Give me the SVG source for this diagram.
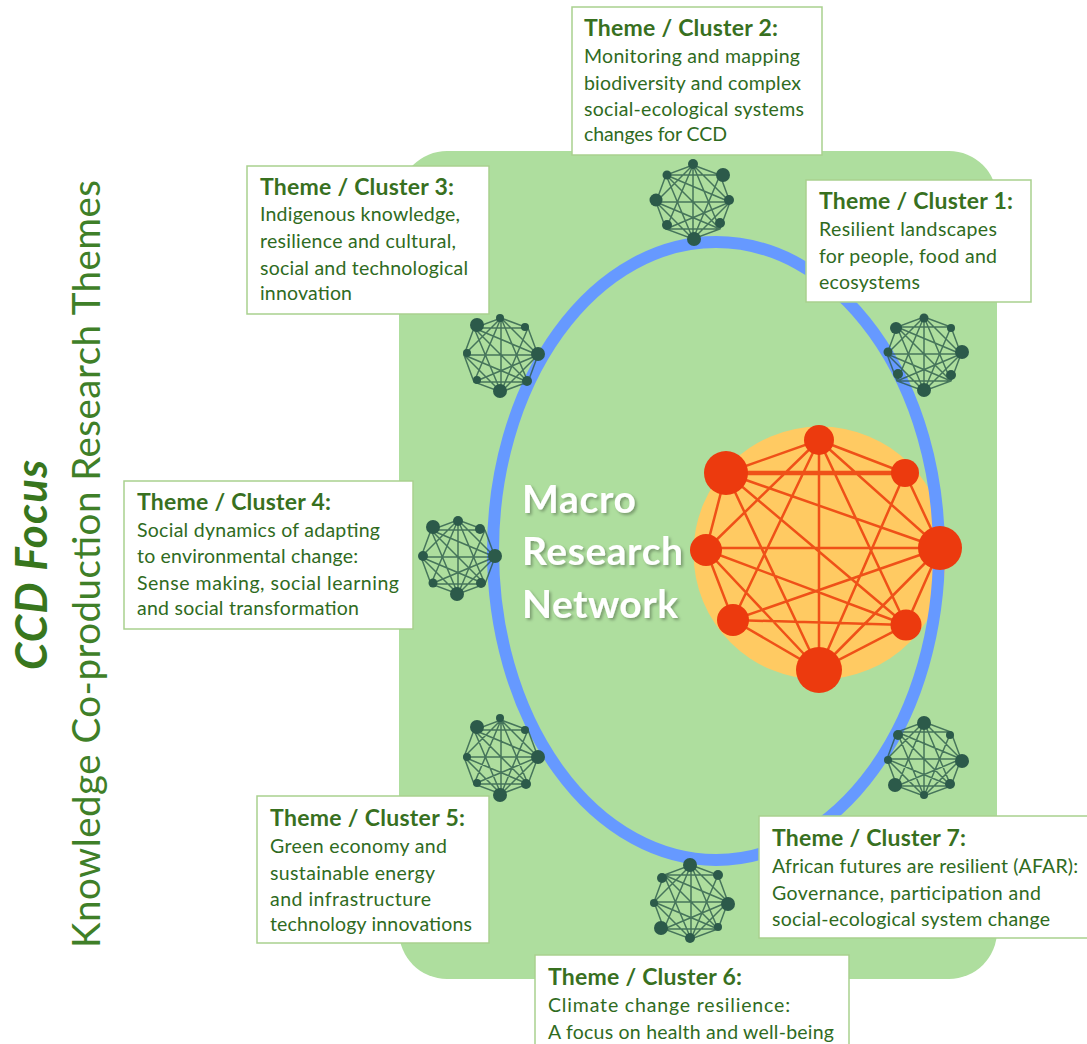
<svg xmlns="http://www.w3.org/2000/svg" width="1087" height="1044" viewBox="0 0 1087 1044">
<style>
.box{fill:#fff;stroke:#A9D18E;stroke-width:1.5}
.t{font-family:Lato,"Liberation Sans",sans-serif;font-size:23px;font-weight:700;fill:#38701F}
.b{font-family:Lato,"Liberation Sans",sans-serif;font-size:19.5px;fill:#2F6B1E}
.n{fill:#2C5A4A}
.r{fill:#EC3A0E}
.m{fill:none;stroke:#2C5A4A;stroke-width:1.5;stroke-opacity:.8}
.big{fill:none;stroke:#EE4A14;stroke-width:2.5;stroke-opacity:.95}
.mac{font-family:Lato,"Liberation Sans",sans-serif;font-size:39px;font-weight:700;fill:#fff;filter:url(#sh)}
</style>
<defs>
<filter id="sh" x="-10%" y="-20%" width="120%" height="140%"><feDropShadow dx="2" dy="2" stdDeviation="1.5" flood-color="#000" flood-opacity=".3"/></filter>
<path id="mesh" class="m" d="M0,-37L27,-27L37,0L27,27L0,37L-27,27L-37,0L-27,-27ZM0,-37L37,0M0,-37L27,27M0,-37V37M0,-37L-27,27M0,-37L-37,0M27,-27L0,37M27,-27L-27,-27M37,0L-27,-27M37,0H-37M37,0L-27,27M37,0L0,37M27,27L-27,-27M27,27L-37,0M27,27L-27,27M0,37L-27,-27M0,37L-37,0"/>
</defs>
<rect id="field" x="399" y="151" width="598" height="828" rx="48" fill="#AEDE9E"/>
<circle id="macro-disc" cx="820" cy="553" r="126.5" fill="#FFCA62"/>
<ellipse id="macro-ring" cx="716" cy="551" rx="223" ry="309" fill="none" stroke="#6699FF" stroke-width="12"/>
<g id="connectors">
<path class="big" d="M819,440L905,473L940,548L906,625L819,670L733,620L706,550L726,473ZM819,440L940,548M819,440L906,625M819,440V670M819,440L733,620M819,440L706,550M905,473L819,670M905,472H726M905,474H726M940,548L726,473M940,548H706M940,548L733,620M940,548L819,670M906,625L726,473M906,625L706,550M906,625L733,620M819,670L726,473M819,670L706,550"/>
<use href="#mesh" x="924" y="354"/>
<use href="#mesh" x="693" y="202"/>
<use href="#mesh" x="501" y="355"/>
<use href="#mesh" x="458" y="557"/>
<use href="#mesh" x="501" y="757"/>
<use href="#mesh" x="691" y="902"/>
<use href="#mesh" x="924" y="759"/>
</g>
<g id="macro-nodes">
<circle class="r" cx="819" cy="440" r="15"/><circle class="r" cx="905" cy="473" r="14"/><circle class="r" cx="940" cy="548" r="22"/><circle class="r" cx="906" cy="625" r="15.5"/><circle class="r" cx="819" cy="670" r="23"/><circle class="r" cx="733" cy="620" r="16"/><circle class="r" cx="706" cy="550" r="16"/><circle class="r" cx="726" cy="473" r="22"/>
</g>
<g id="net1"><circle class="n" cx="924" cy="318" r="4.5"/><circle class="n" cx="951" cy="328" r="4"/><circle class="n" cx="962" cy="352" r="7"/><circle class="n" cx="951" cy="375" r="5"/><circle class="n" cx="924" cy="390" r="7"/><circle class="n" cx="898" cy="374" r="5"/><circle class="n" cx="888" cy="352" r="4.5"/><circle class="n" cx="896" cy="328" r="6"/></g>
<g id="net2"><circle class="n" cx="693" cy="164" r="5"/><circle class="n" cx="723" cy="175" r="7"/><circle class="n" cx="729" cy="200" r="5"/><circle class="n" cx="720" cy="223" r="5"/><circle class="n" cx="694" cy="239" r="7"/><circle class="n" cx="667" cy="225" r="5"/><circle class="n" cx="656" cy="200" r="6.5"/><circle class="n" cx="667" cy="175" r="4.5"/></g>
<g id="net3"><circle class="n" cx="500" cy="318" r="4"/><circle class="n" cx="525" cy="327" r="4"/><circle class="n" cx="538" cy="354" r="7"/><circle class="n" cx="527" cy="381" r="5"/><circle class="n" cx="500" cy="391" r="7"/><circle class="n" cx="477" cy="380" r="4"/><circle class="n" cx="467" cy="353" r="4"/><circle class="n" cx="477" cy="325" r="7"/></g>
<g id="net4"><circle class="n" cx="458" cy="521" r="5"/><circle class="n" cx="480" cy="529" r="5"/><circle class="n" cx="495" cy="556" r="7"/><circle class="n" cx="481" cy="583" r="5"/><circle class="n" cx="457" cy="594" r="7"/><circle class="n" cx="433" cy="583" r="4.5"/><circle class="n" cx="423" cy="556" r="5"/><circle class="n" cx="433" cy="527" r="7"/></g>
<g id="net5"><circle class="n" cx="500" cy="718" r="4"/><circle class="n" cx="525" cy="730" r="4"/><circle class="n" cx="538" cy="757" r="7"/><circle class="n" cx="526" cy="784" r="5"/><circle class="n" cx="500" cy="795" r="7"/><circle class="n" cx="477" cy="783" r="4"/><circle class="n" cx="467" cy="757" r="4"/><circle class="n" cx="477" cy="727" r="7"/></g>
<g id="net6"><circle class="n" cx="690" cy="865" r="7"/><circle class="n" cx="718" cy="875" r="5"/><circle class="n" cx="728" cy="904" r="7"/><circle class="n" cx="718" cy="927" r="4"/><circle class="n" cx="690" cy="938" r="5"/><circle class="n" cx="661" cy="928" r="7"/><circle class="n" cx="654" cy="903" r="4"/><circle class="n" cx="662" cy="878" r="5"/></g>
<g id="net7"><circle class="n" cx="924" cy="723" r="7"/><circle class="n" cx="950" cy="735" r="4"/><circle class="n" cx="962" cy="761" r="7"/><circle class="n" cx="950" cy="784" r="5"/><circle class="n" cx="924" cy="795" r="4"/><circle class="n" cx="895" cy="785" r="7"/><circle class="n" cx="888" cy="760" r="4"/><circle class="n" cx="898" cy="735" r="5"/></g>
<g id="macro-label"><text class="mac" x="522" y="513" textLength="114">Macro</text><text class="mac" x="522" y="565" textLength="161">Research</text><text class="mac" x="522" y="618" textLength="156">Network</text></g>
<g id="cluster2"><rect class="box" x="572" y="7" width="250" height="148"/><text class="t" x="584" y="36" textLength="194">Theme / Cluster 2:</text><text class="b" x="584" y="63" textLength="216">Monitoring and mapping</text><text class="b" x="584" y="90" textLength="217">biodiversity and complex</text><text class="b" x="584" y="116" textLength="220">social-ecological systems</text><text class="b" x="584" y="141" textLength="143">changes for CCD</text></g>
<g id="cluster3"><rect class="box" x="247" y="166" width="242" height="148"/><text class="t" x="260" y="195" textLength="194">Theme / Cluster 3:</text><text class="b" x="260" y="221" textLength="200">Indigenous knowledge,</text><text class="b" x="260" y="248" textLength="196">resilience and cultural,</text><text class="b" x="260" y="275" textLength="208">social and technological</text><text class="b" x="260" y="300" textLength="92">innovation</text></g>
<g id="cluster1"><rect class="box" x="806" y="180" width="225" height="122"/><text class="t" x="819" y="209" textLength="194">Theme / Cluster 1:</text><text class="b" x="819" y="236" textLength="178">Resilient landscapes</text><text class="b" x="819" y="263" textLength="178">for people, food and</text><text class="b" x="819" y="289" textLength="101">ecosystems</text></g>
<g id="cluster4"><rect class="box" x="124" y="481" width="289" height="148"/><text class="t" x="137" y="510" textLength="194">Theme / Cluster 4:</text><text class="b" x="137" y="537" textLength="243">Social dynamics of adapting</text><text class="b" x="137" y="563" textLength="221">to environmental change:</text><text class="b" x="137" y="590" textLength="262">Sense making, social learning</text><text class="b" x="137" y="615" textLength="222">and social transformation</text></g>
<g id="cluster5"><rect class="box" x="257" y="796" width="232" height="147"/><text class="t" x="270" y="826" textLength="195">Theme / Cluster 5:</text><text class="b" x="270" y="853" textLength="177">Green economy and</text><text class="b" x="270" y="880" textLength="165">sustainable energy</text><text class="b" x="270" y="906" textLength="161">and infrastructure</text><text class="b" x="270" y="931" textLength="202">technology innovations</text></g>
<g id="cluster7"><rect class="box" x="759" y="816" width="340" height="122"/><text class="t" x="772" y="846" textLength="194">Theme / Cluster 7:</text><text class="b" x="772" y="873" textLength="306">African futures are resilient (AFAR):</text><text class="b" x="772" y="900" textLength="269">Governance, participation and</text><text class="b" x="772" y="926" textLength="278">social-ecological system change</text></g>
<g id="cluster6"><rect class="box" x="535" y="955" width="314" height="100"/><text class="t" x="548" y="985" textLength="194">Theme / Cluster 6:</text><text class="b" x="548" y="1012" textLength="242">Climate change resilience:</text><text class="b" x="548" y="1039" textLength="286">A focus on health and well-being</text></g>
<text id="focus" transform="translate(47,670) rotate(-90)" font-family="Lato,'Liberation Sans',sans-serif" font-size="44" font-weight="700" font-style="italic" fill="#38761D" textLength="210">CCD Focus</text>
<text id="themes" transform="translate(100,948) rotate(-90)" font-family="Lato,'Liberation Sans',sans-serif" font-size="38.5" fill="#3F7F28" textLength="768">Knowledge Co-production Research Themes</text>
</svg>
